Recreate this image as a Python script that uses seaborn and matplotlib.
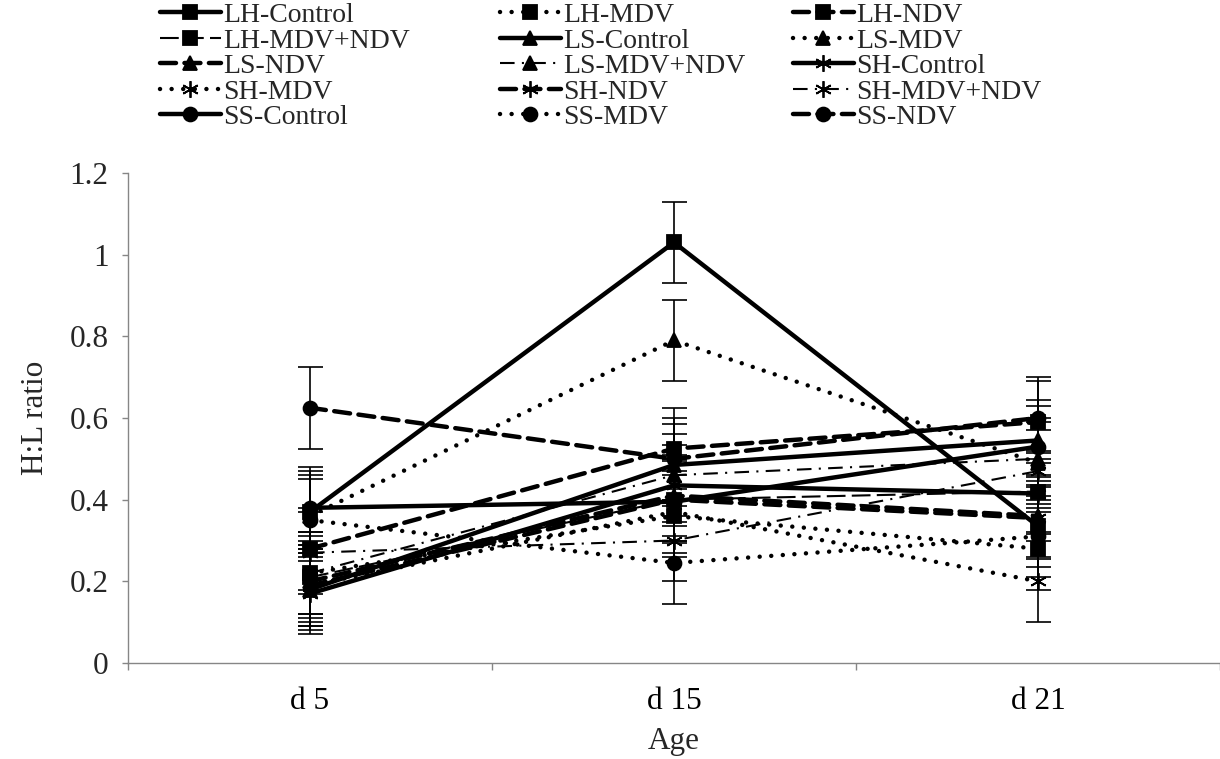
import numpy as np
import pandas as pd
import matplotlib
matplotlib.use("Agg")
import matplotlib.pyplot as plt
import seaborn as sns

days = ["d 5", "d 15", "d 21"]
series_names = ["LH-Control", "LH-MDV", "LH-NDV", "LH-MDV+NDV",
                "LS-Control", "LS-MDV", "LS-NDV", "LS-MDV+NDV",
                "SH-Control", "SH-MDV", "SH-NDV", "SH-MDV+NDV",
                "SS-Control", "SS-MDV", "SS-NDV"]

lh_control = [0.37, 1.03, 0.335]
lh_mdv = [0.22, 0.36, 0.28]
lh_ndv = [0.28, 0.525, 0.59]
lh_mdv_ndv = [0.21, 0.40, 0.42]
ls_control = [0.18, 0.485, 0.545]
ls_mdv = [0.36, 0.79, 0.49]
ls_ndv = [0.20, 0.41, 0.36]
ls_mdv_ndv = [0.22, 0.46, 0.50]
sh_control = [0.17, 0.435, 0.415]
sh_mdv = [0.19, 0.37, 0.20]
sh_ndv = [0.19, 0.40, 0.355]
sh_mdv_ndv = [0.27, 0.30, 0.47]
ss_control = [0.38, 0.395, 0.53]
ss_mdv = [0.35, 0.245, 0.31]
ss_ndv = [0.625, 0.50, 0.60]

errors = [0.10, 0.10, 0.10]

values = [lh_control, lh_mdv, lh_ndv, lh_mdv_ndv,
          ls_control, ls_mdv, ls_ndv, ls_mdv_ndv,
          sh_control, sh_mdv, sh_ndv, sh_mdv_ndv,
          ss_control, ss_mdv, ss_ndv]

rows = []
for name, vals in zip(series_names, values):
    for i, (d, v) in enumerate(zip(days, vals)):
        rows.append({"series": name, "pos": i, "day": d, "value": v, "err": errors[i]})
df = pd.DataFrame(rows)

sns.set_theme(style="white")
plt.rcParams["font.family"] = ["Liberation Serif", "DejaVu Serif"]
FS = 22.5
LFS = 20

fig = plt.figure(figsize=(12.2, 7.59), dpi=100)
ax = fig.add_axes([128 / 1220, 96 / 759, 1 - 128 / 1220, (663 - 173) / 759])

asterisk = (6, 2, 0)
marker_for = {"LH": "s", "LS": "^", "SH": asterisk, "SS": "o"}
thick = 3.2
thin = 1.5
style_for = {
    "Control": dict(linestyle="-", linewidth=thick),
    "MDV": dict(linestyle=(0, (0.01, 2.6)), linewidth=thick, dash_capstyle="round"),
    "NDV": dict(linestyle=(0, (3.6, 1.9)), linewidth=thick, dash_capstyle="round"),
}

handles = []
for name in series_names:
    grp, trt = name.split("-", 1)
    sub = df[df["series"] == name]
    if trt == "MDV+NDV":
        if grp == "LH":
            st = dict(linestyle=(0, (9, 3)), linewidth=thin)
        else:
            st = dict(linestyle=(0, (7, 3.5, 1, 3.5)), linewidth=thin)
    else:
        st = style_for[trt]
    mk = marker_for[grp]
    ms = 12 if mk == asterisk else 10
    sns.lineplot(data=sub, x="pos", y="value", ax=ax, color="black",
                 marker=mk, markersize=ms, markeredgecolor="black",
                 markerfacecolor="black", markeredgewidth=1.3, legend=False, **st)
    line = ax.lines[-1]
    line.set_label(name)
    handles.append(line)
    ax.errorbar(sub["pos"], sub["value"], yerr=sub["err"], fmt="none",
                ecolor="black", elinewidth=1.2, capsize=9, capthick=1.2, zorder=1.5)

if ax.get_legend() is not None:
    ax.get_legend().remove()

ax.set_xlim(-0.495, 2.43)
ax.set_ylim(0, 1.2)
ax.set_yticks(np.arange(0, 1.21, 0.2))
ax.set_yticklabels(["0", "0.2", "0.4", "0.6", "0.8", "1", "1.2"])
ax.set_xticks([-0.5, 0.5, 1.5, 2.5])
ax.set_xticklabels([])
ax.set_xticks([0, 1, 2], minor=True)
ax.set_xticklabels(days, minor=True)
ax.tick_params(axis="x", which="major", length=5, width=1, color="#868686", direction="out", bottom=True)
ax.tick_params(axis="x", which="minor", length=0, labelsize=FS, pad=17.5, labelcolor="black")
ax.tick_params(axis="y", length=4.5, width=1, color="#868686", direction="out", left=True, labelsize=FS, pad=9.5)
for s in ["top", "right"]:
    ax.spines[s].set_visible(False)
for s in ["left", "bottom"]:
    ax.spines[s].set_color("#868686")
    ax.spines[s].set_linewidth(1)
ax.set_xlabel("Age", fontsize=FS, labelpad=8)
ax.set_ylabel("H:L ratio", fontsize=FS, labelpad=14)
ax.grid(False)

# Legend: three columns filled row by row, like the original
col_x = [157, 497, 790]
for c in range(3):
    idx = list(range(c, len(series_names), 3))
    fig.legend(handles=[handles[i] for i in idx], labels=[series_names[i] for i in idx],
               ncol=1, loc="upper left", bbox_to_anchor=(col_x[c] / 1220, 1.0),
               frameon=False, fontsize=LFS, handlelength=2.2, handletextpad=0.08,
               labelspacing=0.0, borderpad=0.0, borderaxespad=0.1)

fig.savefig("out.png", dpi=100)
